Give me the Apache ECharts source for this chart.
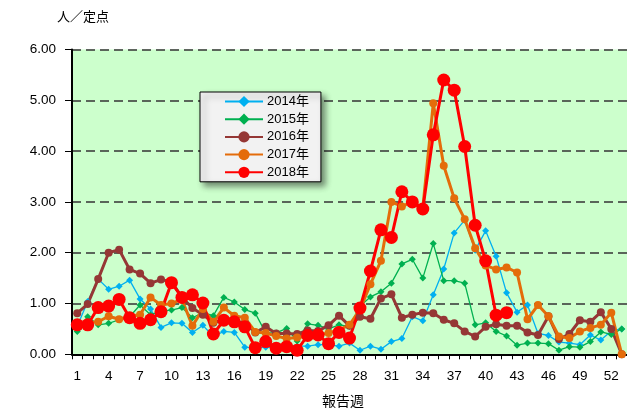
<!DOCTYPE html>
<html><head><meta charset="utf-8">
<script src="https://cdn.jsdelivr.net/npm/echarts@6/dist/echarts.min.js"></script>
<style>html,body{margin:0;padding:0;background:#fff}#c{width:627px;height:412px}</style>
</head><body><div id="c"></div>
<script>
// categories: report weeks 1..53
const weeks = ['1','2','3','4','5','6','7','8','9','10','11','12','13','14','15','16','17','18','19','20','21','22','23','24','25','26','27','28','29','30','31','32','33','34','35','36','37','38','39','40','41','42','43','44','45','46','47','48','49','50','51','52','53'];
const yTicks = [0,1,2,3,4,5,6];
const seriesNames = ['2014年','2015年','2016年','2017年','2018年'];

const y2014 = [0.55,1.04,1.48,1.28,1.34,1.46,1.09,0.89,0.53,0.62, 0.61,0.43,0.57,0.35,0.45,0.43,0.14,0.12,0.14,0.13, 0.18,0.16,0.16,0.19,0.19,0.16,0.22,0.08,0.16,0.10, 0.25,0.31,0.74,0.66,1.17,1.68,2.39,2.64,2.05,2.43, 1.93,1.21,0.83,0.97,0.41,0.37,0.24,0.22,0.19,0.38, 0.28,0.46,0.50];
const y2015 = [0.45,0.74,0.58,0.61,0.68,0.74,0.97,0.78,0.85,0.87, 0.92,0.72,0.82,0.76,1.12,1.03,0.88,0.81,0.42,0.42, 0.51,0.26,0.60,0.57,0.50,0.58,0.55,0.95,1.13,1.23, 1.40,1.78,1.87,1.50,2.18,1.45,1.45,1.40,0.58,0.62, 0.45,0.36,0.18,0.22,0.22,0.21,0.08,0.15,0.14,0.25, 0.44,0.39,0.50];
const y2016 = [0.81,0.99,1.48,2.00,2.06,1.67,1.59,1.40,1.47,1.43, 1.12,0.91,0.78,0.62,0.68,0.64,0.62,0.43,0.54,0.41, 0.41,0.40,0.47,0.46,0.57,0.76,0.56,0.74,0.70,1.10, 1.18,0.72,0.78,0.82,0.81,0.68,0.61,0.45,0.35,0.54, 0.59,0.56,0.56,0.43,0.38,0.75,0.30,0.40,0.67,0.64, 0.83,0.50,0];
const y2017 = [0.60,0.62,0.64,0.75,0.69,0.75,0.78,1.12,0.97,1.00, 1.08,0.56,0.89,0.64,0.92,0.76,0.72,0.44,0.42,0.36, 0.31,0.33,0.35,0.38,0.42,0.48,0.58,0.88,1.38,1.84, 3.00,2.91,3.00,2.88,4.94,3.71,3.07,2.66,2.09,1.75, 1.67,1.71,1.61,0.69,0.97,0.75,0.35,0.32,0.45,0.52, 0.58,0.82,0];
const y2018 = [0.58,0.58,0.92,0.95,1.08,0.72,0.61,0.68,0.84,1.41, 1.12,1.17,1.01,0.40,0.67,0.64,0.54,0.13,0.25,0.12, 0.15,0.08,0.37,0.38,0.21,0.43,0.32,0.91,1.64,2.45, 2.30,3.20,3.00,2.86,4.32,5.40,5.20,4.09,2.54,1.84, 0.77,0.82];

const chart = echarts.init(document.getElementById('c'), null, {renderer:'canvas'});
const FONT = 'Liberation Sans';
const JP = '"Noto Sans CJK JP"';
function mk(name, data, color, symbol, size, width) {
  return {
    name, type:'line', data, color,
    symbol, symbolSize: size, showSymbol:true, showAllSymbol:true,
    lineStyle:{color, width},
    itemStyle:{color, borderWidth:0},
    emphasis:{disabled:true},
    connectNulls:false
  };
}
chart.setOption({
  animation:false,
  backgroundColor:'#ffffff',
  grid:{left:72, top:49.5, width:562.3, height:304.8, show:true, backgroundColor:'#CCFFCC', borderWidth:0, containLabel:false},
  legend:{
    orient:'vertical', left:200, top:92,
    data: seriesNames,
    backgroundColor:'#F2F2F2', borderColor:'#000', borderWidth:1,
    shadowColor:'rgba(0,0,0,0.45)', shadowBlur:6, shadowOffsetX:4, shadowOffsetY:4,
    padding:[3,12,3,24],
    itemWidth:38, itemHeight:14, itemGap:4.7,
    textStyle:{fontFamily:FONT + ',' + JP, fontSize:13, color:'#000', padding:[0,0,0,-1]}
  },
  xAxis:{
    type:'category', data:weeks, boundaryGap:true,
    axisLine:{show:true, lineStyle:{color:'#000', width:2}},
    axisTick:{show:true, interval:0, length:5, lineStyle:{color:'#000', width:1}},
    axisLabel:{interval:2, margin:15, fontFamily:FONT, fontSize:13.5, color:'#000'},
    splitLine:{show:false}
  },
  yAxis:{
    type:'value', min:yTicks[0], max:yTicks[yTicks.length-1], interval:1,
    axisLine:{show:true, lineStyle:{color:'#000', width:2}},
    axisTick:{show:true, length:7, lineStyle:{color:'#000', width:1}},
    axisLabel:{margin:16, fontFamily:FONT, fontSize:13.5, color:'#000', formatter:v=>v.toFixed(2)},
    splitLine:{show:true, lineStyle:{color:'#333', width:1.5, type:[9,5]}}
  },
  graphic:[
    {type:'text', left:57, top:10, style:{text:'人／定点', font:'13px ' + JP, fill:'#000'}},
    {type:'text', left:322, top:394, style:{text:'報告週', font:'14px ' + JP, fill:'#000'}}
  ],
  series:[
    mk(seriesNames[0], y2014, '#00B0F0', 'diamond', 7, 1.3),
    mk(seriesNames[1], y2015, '#00B050', 'diamond', 7, 1.3),
    mk(seriesNames[2], y2016, '#953735', 'circle', 8, 3),
    mk(seriesNames[3], y2017, '#E46C0A', 'circle', 8, 3),
    mk(seriesNames[4], y2018, '#FF0000', 'circle', 13, 3)
  ]
});
</script></body></html>
